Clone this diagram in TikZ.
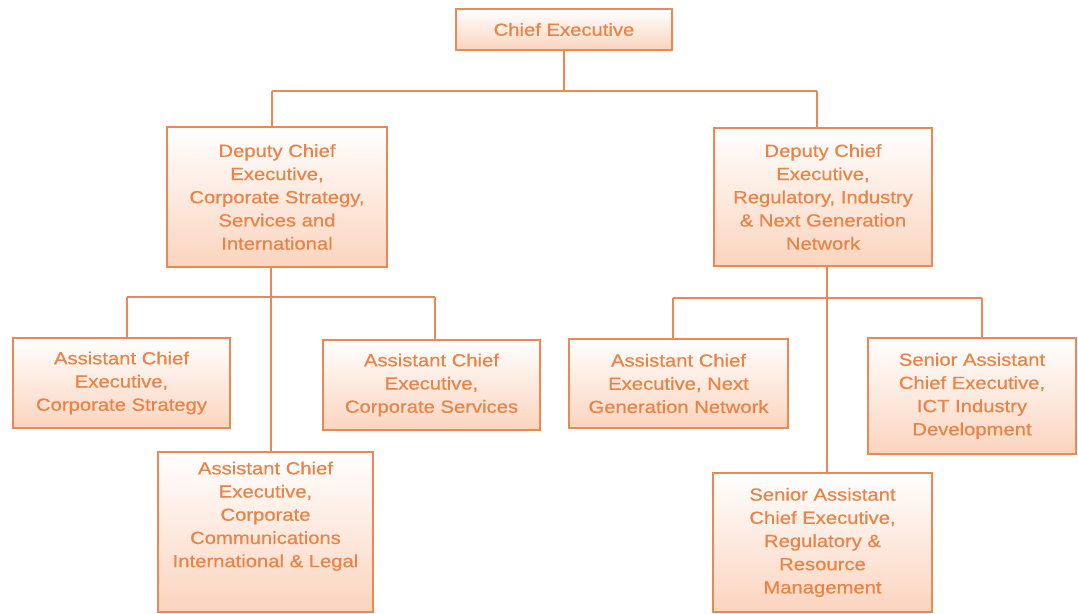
\documentclass[tikz,border=0pt]{standalone}
\usepackage{fontspec}
\setmainfont[FakeStretch=1.15,FakeBold=0.6]{Liberation Sans}
\definecolor{boxline}{RGB}{236,136,84}
\definecolor{boxtext}{RGB}{232,132,72}
\definecolor{boxbot}{RGB}{251,212,190}
\begin{document}
\begin{tikzpicture}[x=0.5pt,y=-0.5pt,
  orgbox/.style={draw=boxline, line width=1.4pt, top color=white, bottom color=boxbot,
    text=boxtext, align=center, inner sep=0pt,
    font=\fontsize{8.8}{11.6}\selectfont},
  link/.style={draw=boxline, line width=1pt}]
\fill[white] (0,0) rectangle (1078,614);
\useasboundingbox (0,0) rectangle (1078,614);
\newcommand{\orgnode}[6]{%
  \node[orgbox, minimum width={(#4-#2)*0.5pt}, minimum height={(#5-#3)*0.5pt}]
    (#1) at ({(#2+#4)/2},{(#3+#5)/2}) {#6};}
\coordinate (b0) at (564,91);
\coordinate (b0L) at (272,91);
\coordinate (b0R) at (817,91);
\coordinate (b1L) at (127,297);
\coordinate (b1M) at (271,297);
\coordinate (b1R) at (435,297);
\coordinate (b2L) at (673,298);
\coordinate (b2M) at (827,298);
\coordinate (b2R) at (982,298);
\orgnode{chief}{456}{9}{672}{50}{Chief Executive}
\orgnode{dl}{167}{127}{387}{267}{Deputy Chief\\Executive,\\Corporate Strategy,\\Services and\\International}
\orgnode{dr}{714}{128}{932}{266}{Deputy Chief\\Executive,\\Regulatory, Industry\\\& Next Generation\\Network}
\orgnode{cs}{13}{338}{230}{428}{Assistant Chief\\Executive,\\Corporate Strategy}
\orgnode{cserv}{323}{340}{540}{430}{Assistant Chief\\Executive,\\Corporate Services}
\orgnode{cc}{158}{452}{373}{612}{Assistant Chief\\Executive,\\Corporate\\Communications\\International \& Legal\\[6pt]}
\orgnode{ngn}{569}{339}{788}{428}{Assistant Chief\\Executive, Next\\Generation Network}
\orgnode{ict}{868}{338}{1076}{454}{Senior Assistant\\Chief Executive,\\ICT Industry\\Development}
\orgnode{reg}{713}{473}{932}{612}{Senior Assistant\\Chief Executive,\\Regulatory \&\\Resource\\Management}
\draw[link] (chief.south) -- (b0);
\draw[link] (b0L) -- (b0R);
\draw[link] (b0L) -- (b0L |- dl.north);
\draw[link] (b0R) -- (b0R |- dr.north);
\draw[link] (b1M |- dl.south) -- (b1M |- cc.north);
\draw[link] (b1L) -- (b1R);
\draw[link] (b1L) -- (b1L |- cs.north);
\draw[link] (b1R) -- (b1R |- cserv.north);
\draw[link] (b2M |- dr.south) -- (b2M |- reg.north);
\draw[link] (b2L) -- (b2R);
\draw[link] (b2L) -- (b2L |- ngn.north);
\draw[link] (b2R) -- (b2R |- ict.north);
\end{tikzpicture}
\end{document}
